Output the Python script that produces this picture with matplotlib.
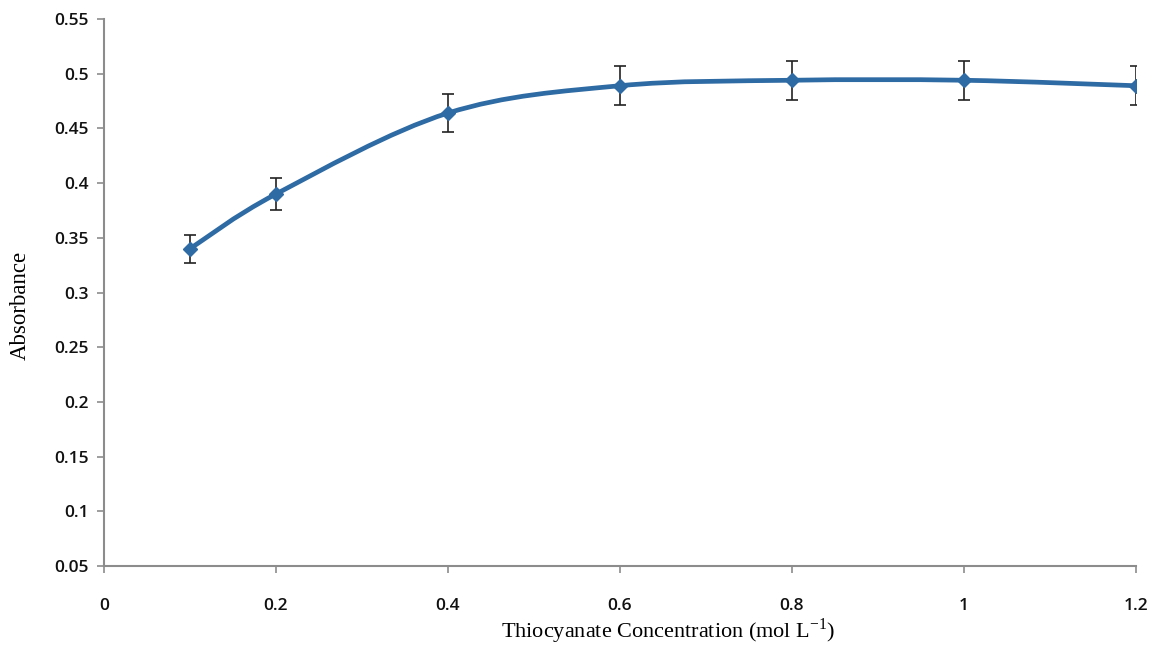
import numpy as np
import matplotlib
matplotlib.use("Agg")
import matplotlib.pyplot as plt
from matplotlib.path import Path
from matplotlib.patches import PathPatch

plt.rcParams["mathtext.fontset"] = "custom"
plt.rcParams["mathtext.rm"] = "Liberation Serif"

# data
conc = [0.1, 0.2, 0.4, 0.6, 0.8, 1.0, 1.2]
absorbance = [0.340, 0.390, 0.464, 0.489, 0.494, 0.494, 0.489]
err = [0.013, 0.015, 0.017, 0.018, 0.018, 0.018, 0.018]

xticks = [0, 0.2, 0.4, 0.6, 0.8, 1.0, 1.2]
xticklabels = ["0", "0.2", "0.4", "0.6", "0.8", "1", "1.2"]
yticks = [0.05, 0.1, 0.15, 0.2, 0.25, 0.3, 0.35, 0.4, 0.45, 0.5, 0.55]
yticklabels = ["0.05", "0.1", "0.15", "0.2", "0.25", "0.3", "0.35", "0.4", "0.45", "0.5", "0.55"]

line_col = "#2e6aa3"
axis_col = "#8c8c8c"

fig = plt.figure(figsize=(11.49, 6.46), dpi=100)
ax = fig.add_axes([0.0905, 0.1238, 0.898, 0.8468])


# Excel-like smoothed line: cubic Bezier segments through the points
def smooth_path(xs, ys, t=1/6):
    pts = np.column_stack([xs, ys])
    verts = [pts[0]]
    codes = [Path.MOVETO]
    n = len(pts)
    for i in range(n - 1):
        p0 = pts[i - 1] if i > 0 else pts[i]
        p1 = pts[i]
        p2 = pts[i + 1]
        p3 = pts[i + 2] if i + 2 < n else pts[i + 1]
        c1 = p1 + (p2 - p0) * t
        c2 = p2 - (p3 - p1) * t
        verts += [c1, c2, p2]
        codes += [Path.CURVE4] * 3
    return Path(verts, codes)


ax.add_patch(PathPatch(smooth_path(conc, absorbance), facecolor="none",
                       edgecolor=line_col, lw=3.4, zorder=3))
ax.errorbar(conc, absorbance, yerr=err, fmt="none", ecolor="#222222",
            elinewidth=1.2, capsize=4, capthick=1.2, zorder=2)
ax.plot(conc, absorbance, "D", color=line_col, ms=7, zorder=4)

ax.set_xlim(0, 1.2)
ax.set_ylim(0.05, 0.55)
ax.set_xticks(xticks)
ax.set_xticklabels(xticklabels)
ax.set_yticks(yticks)
ax.set_yticklabels(yticklabels)

for s in ["top", "right"]:
    ax.spines[s].set_visible(False)
for s in ["left", "bottom"]:
    ax.spines[s].set_color(axis_col)
    ax.spines[s].set_linewidth(1.5)

ax.tick_params(axis="both", colors=axis_col, length=5, width=1.2,
               labelcolor="#111111", labelsize=12.5)
ax.tick_params(axis="x", pad=18)
ax.tick_params(axis="y", pad=6)
for lab in ax.get_xticklabels() + ax.get_yticklabels():
    lab.set_family("Open Sans")
    lab.set_fontweight("semibold")

ax.set_xlabel("Thiocyanate Concentration (mol L$^{\\mathregular{-1}}$)",
              fontsize=16, family="Liberation Serif", va="center")
ax.set_ylabel("Absorbance", fontsize=16.5, family="Liberation Serif", va="center")
ax.xaxis.set_label_coords(0.5465, -0.119)
ax.yaxis.set_label_coords(-0.0814, 0.477)

fig.savefig("out.png", dpi=100)
